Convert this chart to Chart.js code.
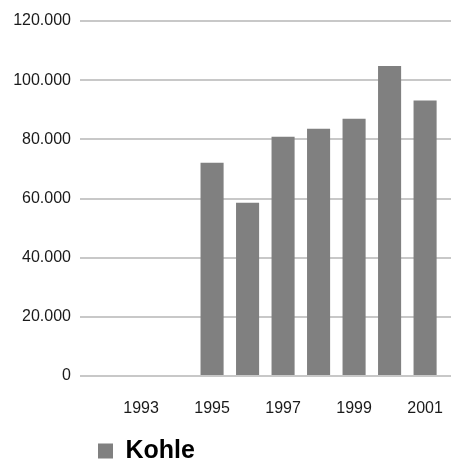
<!DOCTYPE html>
<html>
<head>
<meta charset="utf-8">
<script src="https://cdn.jsdelivr.net/npm/chart.js@4"></script>
<style>
  html, body { margin: 0; padding: 0; background: #fff; }
</style>
</head>
<body>
<canvas id="chart" width="456" height="463"></canvas>
<script>
'use strict';

// ── Data ─────────────────────────────────────────────────────────────────────
const years = [1993, 1994, 1995, 1996, 1997, 1998, 1999, 2000, 2001];
const kohle = [null, null, 72100, 58600, 80900, 83600, 87000, 104800, 93100];
const tickYears = [1993, 1995, 1997, 1999, 2001];
const yTicks = [0, 20000, 40000, 60000, 80000, 100000, 120000];

const FONT = '"Liberation Sans", Arial, sans-serif';

function fmtDE(v) {
  return String(v).replace(/\B(?=(\d{3})+(?!\d))/g, '.');
}

// ── Chart ────────────────────────────────────────────────────────────────────
new Chart(document.getElementById('chart'), {
  type: 'bar',
  data: {
    datasets: [{
      label: 'Kohle',
      data: years.map((yr, i) => ({ x: yr, y: kohle[i] })),
      backgroundColor: '#808080',
      borderWidth: 0,
      barPercentage: 1,
      categoryPercentage: 0.65,
    }],
  },
  options: {
    responsive: false,
    animation: false,
    layout: { padding: { top: 21, right: 5, bottom: 0, left: 0 } },
    plugins: {
      tooltip: { enabled: false },
      legend: {
        position: 'bottom',
        align: 'start',
        fullSize: false,
        maxHeight: 42.5,
        labels: {
          boxWidth: 15,
          boxHeight: 15,
          padding: 18,
          color: '#000',
          font: { family: FONT, size: 25, weight: 'bold' },
        },
      },
    },
    scales: {
      x: {
        type: 'linear',
        offset: false,
        min: 1991.28,
        max: 2001.73,
        grid: { display: false, drawTicks: false, offset: false },
        border: { display: false },
        afterBuildTicks: s => { s.ticks = tickYears.map(v => ({ value: v })); },
        afterFit: s => { s.height = 44.5; s.paddingLeft = 0; s.paddingRight = 0; },
        ticks: {
          autoSkip: false,
          maxRotation: 0,
          padding: 23,
          color: '#1a1a1a',
          font: { family: FONT, size: 16 },
          callback: v => String(v),
        },
      },
      y: {
        min: 0,
        max: 120000,
        afterFit: s => { s.width = 80; },
        afterBuildTicks: s => { s.ticks = yTicks.map(v => ({ value: v })); },
        grid: { color: '#c8c8c8', lineWidth: 2, drawTicks: false },
        border: { display: false },
        ticks: {
          padding: 9,
          color: '#1a1a1a',
          font: { family: FONT, size: 16 },
          callback: v => fmtDE(v),
        },
      },
    },
  },
});
</script>
</body>
</html>
